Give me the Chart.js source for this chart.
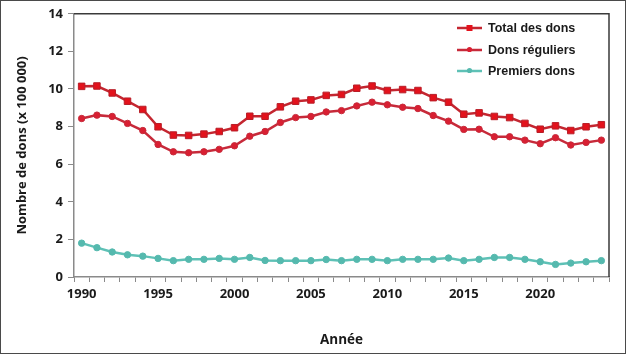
<!DOCTYPE html>
<html>
<head>
<meta charset="utf-8">
<script src="https://cdn.jsdelivr.net/npm/chart.js@4.4.1/dist/chart.umd.min.js"></script>
<style>
  html, body { margin: 0; padding: 0; background: #fff; }
  #wrap { width: 626px; height: 354px; box-sizing: border-box; border: 1px solid #4a4a4a; }
  canvas { display: block; }
</style>
</head>
<body>
<div id="wrap"><canvas id="chart" width="624" height="352"></canvas></div>
<script>
const years = []
for (let y = 1990; y <= 2024; y++) years.push(String(y))

// nombre de dons (x 100 000)
const totalDons = [10.14, 10.16, 9.79, 9.35, 8.91, 7.99, 7.55, 7.53, 7.60, 7.74,
  7.94, 8.55, 8.55, 9.05, 9.35, 9.42, 9.66, 9.71, 10.04, 10.16,
  9.92, 9.97, 9.92, 9.54, 9.30, 8.66, 8.73, 8.54, 8.48, 8.17,
  7.86, 8.04, 7.79, 7.99, 8.10]
const donsReguliers = [8.43, 8.61, 8.54, 8.17, 7.79, 7.05, 6.66, 6.61, 6.66, 6.79,
  6.98, 7.49, 7.74, 8.22, 8.48, 8.54, 8.78, 8.85, 9.10, 9.30,
  9.16, 9.03, 8.96, 8.59, 8.29, 7.85, 7.86, 7.46, 7.46, 7.28,
  7.09, 7.41, 7.02, 7.16, 7.28]
const premiersDons = [1.80, 1.56, 1.33, 1.18, 1.11, 0.99, 0.87, 0.94, 0.94, 0.99,
  0.94, 1.04, 0.88, 0.87, 0.87, 0.87, 0.93, 0.87, 0.94, 0.94,
  0.87, 0.94, 0.94, 0.94, 1.01, 0.87, 0.94, 1.04, 1.04, 0.94,
  0.81, 0.67, 0.74, 0.81, 0.87]

const seriesNames = ['Total des dons', 'Dons réguliers', 'Premiers dons']
const yTicks = [0, 2, 4, 6, 8, 10, 12, 14]

const tickFont = { family: 'Open Sans', size: 13, weight: 'bold' }

// legend drawn inside the plot, top right, with line + marker
const legendPlugin = {
  id: 'innerLegend',
  afterDatasetsDraw(chart) {
    const ctx = chart.ctx
    const rows = [27, 49, 70]
    chart.data.datasets.forEach((ds, i) => {
      const y = rows[i]
      ctx.save()
      ctx.strokeStyle = ds.borderColor
      ctx.lineWidth = 2.5
      ctx.beginPath()
      ctx.moveTo(456, y)
      ctx.lineTo(481, y)
      ctx.stroke()
      ctx.fillStyle = ds.pointBackgroundColor
      if (ds.pointStyle === 'rect') {
        ctx.fillRect(465.5, y - 3, 6, 6)
      } else {
        ctx.beginPath()
        ctx.arc(468.5, y - 0.5, 2.6, 0, Math.PI * 2)
        ctx.fill()
      }
      ctx.fillStyle = '#1a1a1a'
      ctx.font = 'bold 12.5px "Liberation Sans"'
      ctx.textBaseline = 'middle'
      ctx.fillText(ds.label, 487, y + 0.5)
      ctx.restore()
    })
  }
}

// top and right frame of the plot area
const framePlugin = {
  id: 'frame',
  afterDraw(chart) {
    const { ctx, chartArea: a } = chart
    ctx.save()
    ctx.strokeStyle = '#3a3a3a'
    ctx.lineWidth = 1.5
    ctx.beginPath()
    ctx.moveTo(a.left, a.top)
    ctx.lineTo(a.right, a.top)
    ctx.lineTo(a.right, a.bottom)
    ctx.stroke()
    ctx.restore()
  }
}

new Chart(document.getElementById('chart'), {
  type: 'line',
  data: {
    labels: years,
    datasets: [
      {
        label: seriesNames[0],
        data: totalDons,
        borderColor: '#C42630',
        borderWidth: 2.5,
        pointStyle: 'rect',
        pointRadius: 4.6,
        pointBackgroundColor: '#E3121C',
        pointBorderColor: '#B81E28',
        pointBorderWidth: 1,
        tension: 0
      },
      {
        label: seriesNames[1],
        data: donsReguliers,
        borderColor: '#C72A3A',
        borderWidth: 2.5,
        pointStyle: 'circle',
        pointRadius: 3.2,
        pointBackgroundColor: '#D91F32',
        pointBorderColor: '#C72A3A',
        pointBorderWidth: 1,
        tension: 0
      },
      {
        label: seriesNames[2],
        data: premiersDons,
        borderColor: '#5EC1B6',
        borderWidth: 2.5,
        pointStyle: 'circle',
        pointRadius: 3.2,
        pointBackgroundColor: '#55B9AE',
        pointBorderColor: '#55B9AE',
        pointBorderWidth: 1,
        tension: 0
      }
    ]
  },
  options: {
    responsive: false,
    animation: false,
    layout: { padding: { top: 12, right: 16, left: 0, bottom: 0 } },
    plugins: {
      legend: { display: false },
      tooltip: { enabled: false }
    },
    scales: {
      x: {
        type: 'category',
        offset: true,
        grid: {
          offset: true,
          drawOnChartArea: false,
          drawTicks: true,
          tickLength: 5,
          color: '#8a8a8a'
        },
        border: { color: '#8a8a8a', width: 1.5 },
        ticks: {
          autoSkip: false,
          maxRotation: 0,
          padding: 4,
          color: '#1a1a1a',
          font: tickFont,
          callback(value) {
            const y = Number(this.getLabelForValue(value))
            return y % 5 === 0 ? String(y) : ''
          }
        },
        title: {
          display: true,
          text: 'Année',
          color: '#1a1a1a',
          font: { family: 'Open Sans', size: 13.5, weight: 'bold' },
          padding: { top: 0, bottom: 5 }
        },
        afterFit(scale) { scale.height = 76 }
      },
      y: {
        min: 0,
        max: 14,
        afterBuildTicks(scale) { scale.ticks = yTicks.map(v => ({ value: v })) },
        grid: {
          drawOnChartArea: false,
          drawTicks: true,
          tickLength: 6,
          color: '#8a8a8a'
        },
        border: { color: '#8a8a8a', width: 1.5 },
        ticks: {
          padding: 5,
          color: '#1a1a1a',
          font: tickFont
        },
        title: {
          display: true,
          text: 'Nombre de dons (x 100 000)',
          color: '#1a1a1a',
          font: { family: 'Open Sans', size: 13, weight: 'bold' },
          padding: { top: 13, bottom: 0 }
        },
        afterFit(scale) { scale.width = 73 }
      }
    }
  },
  plugins: [legendPlugin, framePlugin]
})
</script>
</body>
</html>
